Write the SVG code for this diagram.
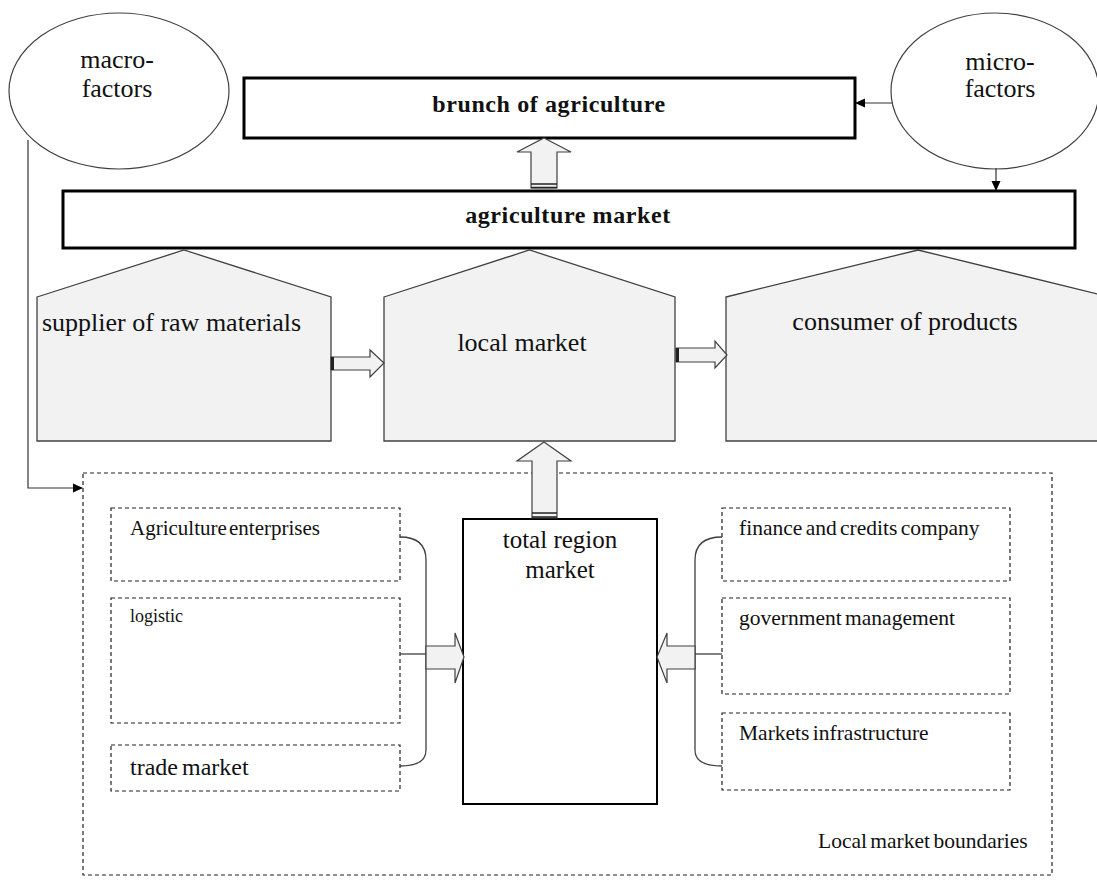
<svg xmlns="http://www.w3.org/2000/svg" width="1097" height="881" viewBox="0 0 1097 881">
<style>
text{font-family:"Liberation Serif","Times New Roman",serif;fill:#111}
.big{font-size:26px}
.title{font-size:24px;font-weight:bold;letter-spacing:0.6px}
.small{font-size:21.5px;word-spacing:-2px}
.ell{fill:#fff;stroke:#404040;stroke-width:1.2}
.pent{fill:#f2f2f2;stroke:#404040;stroke-width:1.3}
.thick{fill:#fff;stroke:#000;stroke-width:3}
.dash{fill:none;stroke:#222;stroke-width:1.2;stroke-dasharray:4 3}
.barrow{fill:#f2f2f2;stroke:#404040;stroke-width:1.2}
.tail{stroke:#222;stroke-width:1.5;fill:none}
.line{fill:none;stroke:#404040;stroke-width:1.3}
.conn{fill:none;stroke:#333;stroke-width:1.2}
</style>
<defs>
<marker id="ah" markerWidth="10" markerHeight="10" refX="9" refY="5" orient="auto" markerUnits="userSpaceOnUse">
<path d="M0,0.5 L10,5 L0,9.5 Z" fill="#000"/>
</marker>
</defs>
<rect width="1097" height="881" fill="#fff"/>

<g id="boundary">
<rect class="dash" x="83" y="473" width="969" height="402"/>
<text class="small" x="818" y="848">Local market boundaries</text>
</g>

<g id="macro">
<ellipse class="ell" cx="119" cy="91" rx="110" ry="78"/>
<text class="big" x="117" y="68" text-anchor="middle">macro-</text>
<text class="big" x="117" y="97" text-anchor="middle">factors</text>
</g>

<g id="micro">
<ellipse class="ell" cx="995" cy="91" rx="104" ry="78"/>
<text class="big" x="1000" y="70" text-anchor="middle">micro-</text>
<text class="big" x="1000" y="97" text-anchor="middle">factors</text>
</g>

<g id="brunch">
<rect class="thick" x="244" y="78" width="611" height="60"/>
<text class="title" x="549" y="112" text-anchor="middle">brunch of agriculture</text>
</g>

<g id="agri-market">
<rect class="thick" x="63" y="191" width="1012" height="57"/>
<text class="title" x="568" y="223" text-anchor="middle">agriculture market</text>
</g>

<g id="supplier">
<polygon class="pent" points="37,297 184,250 331,297 331,441 37,441"/>
<text class="big" x="42" y="331">supplier of raw materials</text>
</g>

<g id="local-market">
<polygon class="pent" points="384,297 529.5,250 675,297 675,441 384,441"/>
<text class="big" x="522" y="351" text-anchor="middle">local market</text>
</g>

<g id="consumer">
<polygon class="pent" points="726,297 918,250 1110,297 1110,441 726,441"/>
<text class="big" x="905" y="330" text-anchor="middle">consumer of products</text>
</g>

<g id="total-region">
<rect x="463" y="519" width="194" height="285" fill="#fff" stroke="#000" stroke-width="2"/>
<text class="big" x="560" y="548" text-anchor="middle" style="font-size:25px">total region</text>
<text class="big" x="560" y="578" text-anchor="middle" style="font-size:25px">market</text>
</g>

<g id="agri-enterprises">
<rect class="dash" x="111" y="508" width="289" height="73"/>
<text class="small" x="130" y="535" style="font-size:21px;word-spacing:-3px">Agriculture enterprises</text>
</g>
<g id="logistic">
<rect class="dash" x="111" y="598" width="289" height="125"/>
<text x="130" y="622" style="font-size:18px">logistic</text>
</g>
<g id="trade-market">
<rect class="dash" x="111" y="745" width="289" height="46"/>
<text x="130" y="775" style="font-size:24px;word-spacing:-2px">trade market</text>
</g>
<g id="finance">
<rect class="dash" x="722" y="508" width="288" height="73"/>
<text class="small" x="739" y="535">finance and credits company</text>
</g>
<g id="government">
<rect class="dash" x="722" y="598" width="288" height="96"/>
<text class="small" x="739" y="625">government management</text>
</g>
<g id="infrastructure">
<rect class="dash" x="722" y="713" width="288" height="77"/>
<text class="small" x="739" y="740">Markets infrastructure</text>
</g>

<g id="connectors">
<polyline class="conn" points="28,140 28,488 82,488" marker-end="url(#ah)"/>
<line class="conn" x1="892" y1="103" x2="856" y2="103" marker-end="url(#ah)"/>
<line class="conn" x1="996" y1="168" x2="996" y2="190" marker-end="url(#ah)"/>

<path class="line" d="M400,537 Q426,537 426,560 L426,750 Q426,766 400,766"/>
<line class="line" x1="400" y1="654" x2="426" y2="654"/>
<path class="line" d="M722,537 Q695,537 695,560 L695,750 Q695,766 722,766"/>
<line class="line" x1="695" y1="654" x2="722" y2="654"/>

<polygon class="barrow" points="544,138 571,152 557,152 557,188 531,188 531,152 517,152"/>
<line class="tail" x1="531" y1="184" x2="557" y2="184"/>
<line class="tail" x1="531" y1="187.5" x2="557" y2="187.5"/>

<polygon class="barrow" points="544,442 571,461 557,461 557,518 532,518 532,461 517,461"/>
<line class="tail" x1="532" y1="513" x2="557" y2="513"/>
<line class="tail" x1="532" y1="517" x2="557" y2="517"/>

<polygon class="barrow" points="331,357 370,357 370,350 384,363 370,377 370,370 331,370"/>
<rect x="331" y="357" width="3" height="13" fill="#222"/>

<polygon class="barrow" points="676,348 715,348 715,341 727,355 715,368 715,362 676,362"/>
<rect x="676" y="348" width="3" height="14" fill="#222"/>

<polygon class="barrow" points="426,646 455,646 455,633 464,657 455,683 455,669 426,669"/>
<polygon class="barrow" points="695,646 667,646 667,633 657,657 667,683 667,669 695,669"/>
</g>
</svg>
